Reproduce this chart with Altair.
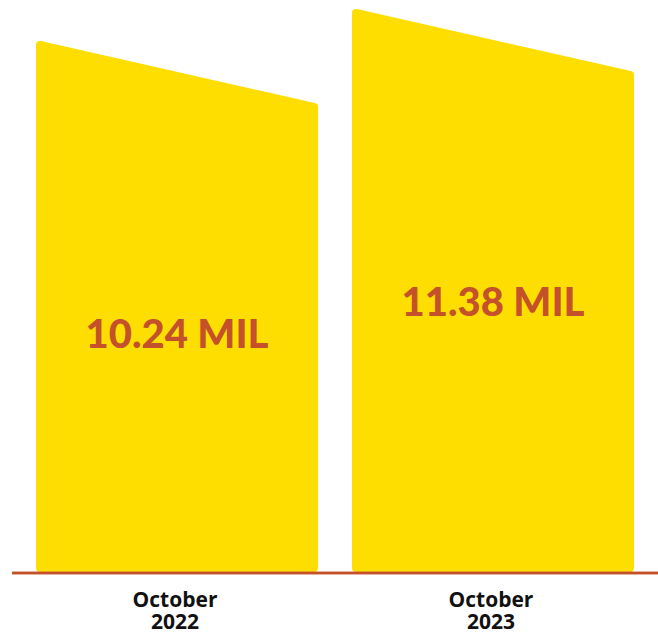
import altair as alt
import pandas as pd

# ---- data ----
categories = ["October\n2022", "October\n2023"]
values = [10.24, 11.38]
value_labels = ["10.24 MIL", "11.38 MIL"]

# ---- style constants ----
YELLOW = "#FEDE00"
RUST = "#C4512A"
Y_DOMAIN = [-8.716, 11.698]   # drawing scale of the infographic (not zero based)
BASE = -8.68                  # bar foot
SLANT = 2.209                 # drop of the slanted top across a bar
HALF = 0.4462                 # half bar width, in category units
INSET_X = 0.0127              # inset so that a round-joined stroke gives rounded corners
INSET_Y = 0.1425

rows = []
for i, (c, v) in enumerate(zip(categories, values)):
    rows.append({"cat": c, "x": i - HALF + INSET_X, "top": v - INSET_Y, "base": BASE + INSET_Y})
    rows.append({"cat": c, "x": i + HALF - INSET_X, "top": v - SLANT - INSET_Y, "base": BASE + INSET_Y})
shape_df = pd.DataFrame(rows)

label_df = pd.DataFrame({"i": range(len(categories)), "cat": categories,
                         "value": values, "label": value_labels})

xs = alt.Scale(domain=[-0.5601, 1.5222], nice=False, zero=False)
ys = alt.Scale(domain=Y_DOMAIN, nice=False, zero=False)

bars = alt.Chart(shape_df).mark_area(
    color=YELLOW, stroke=YELLOW, strokeWidth=8, strokeJoin="round", interpolate="linear"
).encode(
    x=alt.X("x:Q", scale=xs, axis=None),
    y=alt.Y("top:Q", scale=ys, axis=None),
    y2="base:Q",
    detail="cat:N",
)

baseline = alt.Chart(label_df).mark_rule(color=RUST, strokeWidth=2.5).encode(
    x=alt.value(12), x2=alt.value(658), y=alt.value(573)
)

value_text = alt.Chart(label_df).mark_text(
    font="Lato", fontWeight=900, fontSize=40, color=RUST, baseline="middle", dy=295
).encode(
    x=alt.X("i:Q", scale=xs),
    y=alt.Y("value:Q", scale=ys),
    text="label:N",
)

cat_text = alt.Chart(label_df).mark_text(
    font="Open Sans", fontWeight="bold", fontSize=21, color="#111111",
    baseline="alphabetic", lineBreak="\n", lineHeight=22, dx=-2
).encode(
    x=alt.X("i:Q", scale=xs),
    y=alt.value(607),
    text="cat:N",
)

chart = alt.layer(bars, baseline, value_text, cat_text).properties(
    width=658, height=573,
    autosize=alt.AutoSizeParams(type="none"),
    padding={"left": 0, "right": 0, "top": 0, "bottom": 62},
).configure_view(stroke=None)

chart.save("out.html", embed_options={"renderer": "svg", "actions": False})
